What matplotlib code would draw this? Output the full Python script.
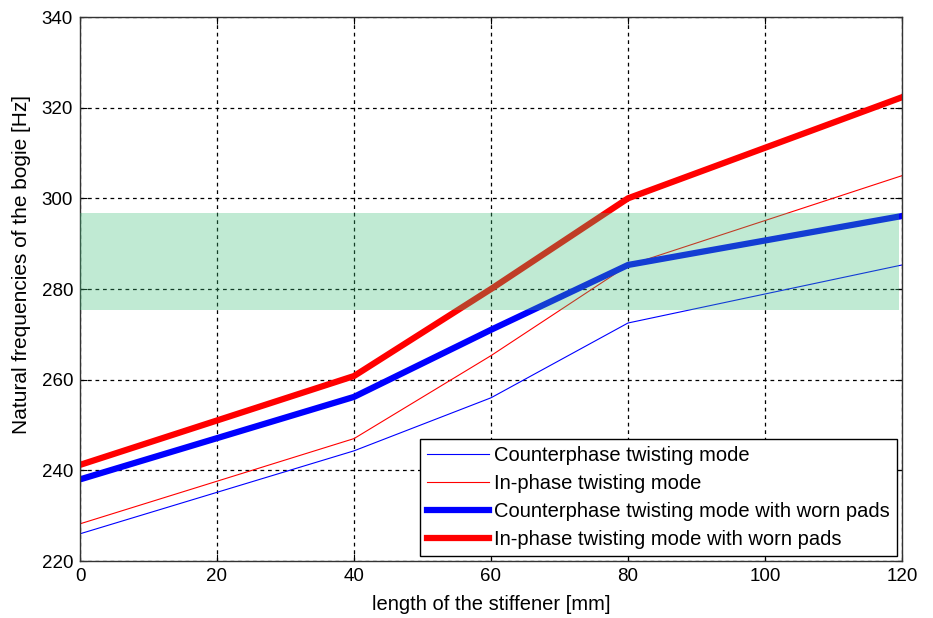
import numpy as np
import matplotlib.pyplot as plt

# stiffener length [mm]
lengths = [0, 40, 60, 80, 120]

# natural frequencies [Hz]
counter_phase = [226, 244.3, 256, 272.5, 285.3]
in_phase = [228.2, 247, 265.3, 285.2, 305]
counter_phase_worn = [238, 256.2, 271, 285.3, 296.1]
in_phase_worn = [241.2, 260.8, 280, 300, 322.3]

band_low, band_high = 275.4, 296.8
band_x = [0, 119.5]

plt.rcParams['font.family'] = ['Liberation Sans', 'DejaVu Sans']

fig = plt.figure(figsize=(9.33, 6.18), dpi=100)
ax = fig.add_axes([80/933, 1 - 561/618, 822/933, 544/618])

ax.plot(lengths, counter_phase, color='#0000ff', lw=0.8, label='Counterphase twisting mode')
ax.plot(lengths, in_phase, color='#ff0000', lw=0.8, label='In-phase twisting mode')
ax.plot(lengths, counter_phase_worn, color='#0000ff', lw=4.5, label='Counterphase twisting mode with worn pads')
ax.plot(lengths, in_phase_worn, color='#ff0000', lw=4.5, label='In-phase twisting mode with worn pads')

# zona di interesse sopra le linee
ax.fill_between(band_x, band_low, band_high, color='#3cbf78', alpha=0.32, lw=0, zorder=3)

ax.set_xlim(0, 120)
ax.set_ylim(220, 340)
ax.set_xticks(np.arange(0, 121, 20))
ax.set_yticks(np.arange(220, 341, 20))
ax.grid(True, color='black', linestyle=(0, (3, 3)), lw=0.9)
ax.tick_params(direction='in', top=True, right=True, labelsize=13.5, length=5, pad=5)
for s in ax.spines.values():
    s.set_color('#333333')
    s.set_linewidth(1.0)

ax.set_xlabel('length of the stiffener [mm]', fontsize=14.5, labelpad=7)
ax.set_ylabel('Natural frequencies of the bogie [Hz]', fontsize=15)
ax.yaxis.set_label_coords(-0.06, 0.545)

leg = ax.legend(loc='lower right', fontsize=14.5, fancybox=False, framealpha=1,
                edgecolor='black', handlelength=3.1, handletextpad=0.25,
                labelspacing=0.45, borderaxespad=0.25, borderpad=0.35)
leg.get_frame().set_linewidth(1.0)
leg.set_zorder(5)

fig.savefig('out.png', dpi=100)
